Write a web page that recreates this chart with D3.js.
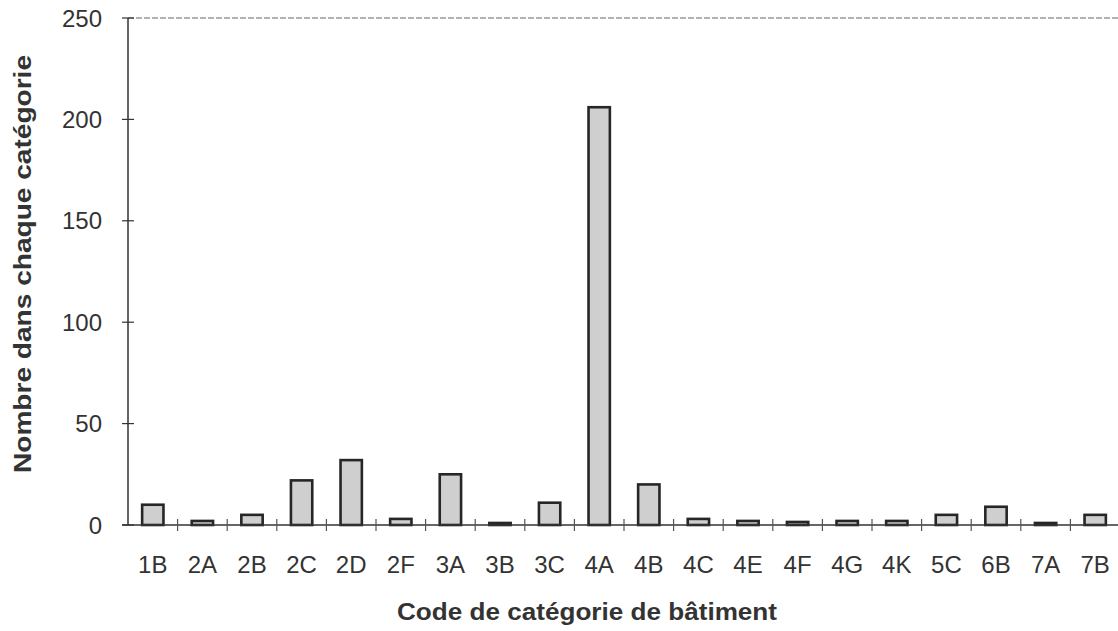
<!DOCTYPE html>
<html>
<head>
<meta charset="utf-8">
<script src="https://cdn.jsdelivr.net/npm/d3@7"></script>
<style>
  body { margin: 0; background: #fff; }
  text { font-family: "Liberation Sans", Arial, sans-serif; }
</style>
</head>
<body>
<svg id="chart" width="1118" height="631"></svg>
<script>
const categories = ['1B','2A','2B','2C','2D','2F','3A','3B','3C','4A','4B','4C','4E','4F','4G','4K','5C','6B','7A','7B'];
const counts = [10, 2, 5, 22, 32, 3, 25, 1, 11, 206, 20, 3, 2, 1.5, 2, 2, 5, 9, 1, 5];
const yTicks = [0, 50, 100, 150, 200, 250];

const svg = d3.select('#chart');
const margin = {top: 18, right: -2, bottom: 106, left: 128};
const width = 1118 - margin.left - margin.right;
const height = 631 - margin.top - margin.bottom;

const g = svg.append('g')
    .attr('transform', 'translate(' + margin.left + ',' + margin.top + ')');

const x = d3.scaleBand().domain(categories).range([0, width]).paddingInner(0.57).paddingOuter(0.285);
const xb = d3.scaleBand().domain(categories).range([0, width]);
const y = d3.scaleLinear().domain([0, 250]).range([height, 0]);

// top and right frame (faint dashed)
g.append('line').attr('x1', 0).attr('x2', width).attr('y1', 0).attr('y2', 0)
    .attr('stroke', '#999').attr('stroke-width', 1.5).attr('stroke-dasharray', '6,2');
g.append('line').attr('x1', width - 1).attr('x2', width - 1).attr('y1', 0).attr('y2', height)
    .attr('stroke', '#ccc').attr('stroke-width', 1.5).attr('stroke-dasharray', '6,3');

// bars
g.selectAll('rect.bar')
    .data(categories)
    .enter()
    .append('rect')
    .attr('class', 'bar')
    .attr('x', d => x(d))
    .attr('width', x.bandwidth())
    .attr('y', (d, i) => y(counts[i]))
    .attr('height', (d, i) => height - y(counts[i]))
    .attr('fill', '#cfcfcf')
    .attr('stroke', '#262626')
    .attr('stroke-width', 2.6);

// y axis
g.append('line').attr('x1', 0).attr('x2', 0).attr('y1', 0).attr('y2', height)
    .attr('stroke', '#333').attr('stroke-width', 1.5);
const yt = g.selectAll('g.ytick').data(yTicks).enter().append('g')
    .attr('transform', d => 'translate(0,' + y(d) + ')');
yt.append('line').attr('x1', -6).attr('x2', 6).attr('stroke', '#333').attr('stroke-width', 1.2);
yt.append('text').attr('x', -26).attr('dy', '0.36em').attr('text-anchor', 'end')
    .attr('font-size', '24px').attr('fill', '#333').text(d => d);

// x axis
g.append('line').attr('x1', -6).attr('x2', width).attr('y1', height).attr('y2', height)
    .attr('stroke', '#333').attr('stroke-width', 1.5);
g.selectAll('line.xtick').data(categories.slice(1)).enter().append('line')
    .attr('x1', d => xb(d)).attr('x2', d => xb(d))
    .attr('y1', height - 6).attr('y2', height + 6)
    .attr('stroke', '#555').attr('stroke-width', 1.2);
g.selectAll('text.xlab').data(categories).enter().append('text')
    .attr('x', d => xb(d) + xb.bandwidth() / 2)
    .attr('y', height + 48)
    .attr('text-anchor', 'middle')
    .attr('font-size', '24px').attr('fill', '#333')
    .text(d => d);

// titles
svg.append('text')
    .attr('x', 587).attr('y', 620)
    .attr('text-anchor', 'middle')
    .attr('font-size', '23px').attr('font-weight', 'bold').attr('fill', '#333')
    .attr('textLength', 380).attr('lengthAdjust', 'spacingAndGlyphs')
    .text('Code de catégorie de bâtiment');
svg.append('text')
    .attr('transform', 'translate(31,' + 264 + ') rotate(-90)')
    .attr('text-anchor', 'middle')
    .attr('font-size', '23px').attr('font-weight', 'bold').attr('fill', '#333')
    .attr('textLength', 418).attr('lengthAdjust', 'spacingAndGlyphs')
    .text('Nombre dans chaque catégorie');
</script>
</body>
</html>
